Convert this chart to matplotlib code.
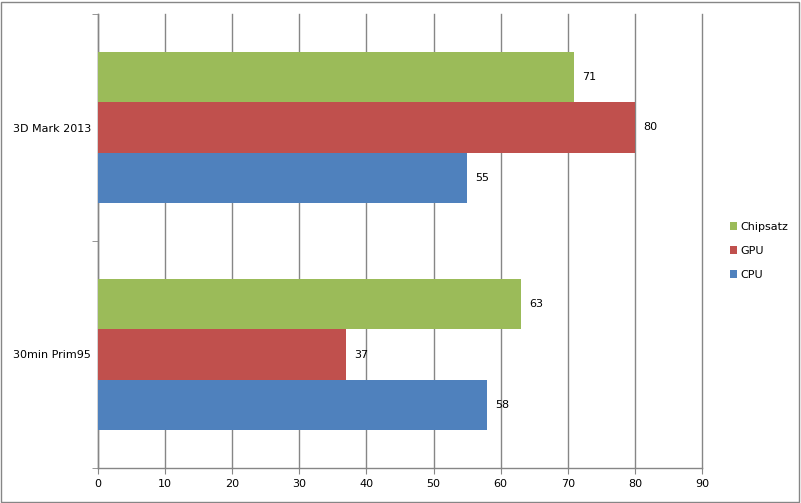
import matplotlib
matplotlib.use("Agg")
import matplotlib.pyplot as plt
from matplotlib.patches import Rectangle
import numpy as np

categories = ["30min Prim95", "3D Mark 2013"]
cpu = [58, 55]
gpu = [37, 80]
chipsatz = [63, 71]

series = [("CPU", cpu, "#4F81BD"), ("GPU", gpu, "#C0504D"), ("Chipsatz", chipsatz, "#9BBB59")]

plt.rcParams['font.family'] = ['DejaVu Sans']
fig = plt.figure(figsize=(8.01, 5.03), dpi=100)
ax = fig.add_axes([98 / 801, 1 - 468 / 503, (702 - 98) / 801, (468 - 14) / 503])

y = np.arange(len(categories))
h = 0.223
handles = []
for i, (name, vals, col) in enumerate(series):
    off = (i - 1) * h
    bars = ax.barh(y + off, vals, height=h, color=col, label=name, zorder=3)
    handles.append(bars)
    for yy, v in zip(y + off, vals):
        ax.text(v + 1.2, yy, str(v), va="center", ha="left", fontsize=8, color="black")

ax.set_xlim(0, 90)
ax.set_ylim(-0.5, 1.5)
ax.set_xticks(np.arange(0, 91, 10))
ax.set_yticks(y)
ax.set_yticklabels(categories)
ax.set_yticks([-0.5, 0.5, 1.5], minor=True)
ax.tick_params(axis="y", which="major", length=0, labelsize=8, pad=5)
ax.tick_params(axis="y", which="minor", length=4, color="#868686", direction="out")
ax.tick_params(axis="x", length=4, color="#868686", labelsize=8, pad=4)
ax.grid(axis="x", color="#868686", linewidth=1, zorder=0)
for gl in ax.get_xgridlines():
    gl.set_clip_on(False)
for s in ["top", "right"]:
    ax.spines[s].set_visible(False)
for s in ["left", "bottom"]:
    ax.spines[s].set_color("#868686")
    ax.spines[s].set_linewidth(1)

ax.legend(handles[::-1], [s[0] for s in series][::-1], loc="center left",
          bbox_to_anchor=(1.03, 0.478), frameon=False, fontsize=8,
          handlelength=0.65, handleheight=0.65, handletextpad=0.3, labelspacing=1.25)

fig.patches.append(Rectangle((1 / 801, 1 / 503), 798 / 801, 500 / 503, transform=fig.transFigure,
                             fill=False, edgecolor="#868686", linewidth=1))

fig.savefig("out.png", dpi=100)
